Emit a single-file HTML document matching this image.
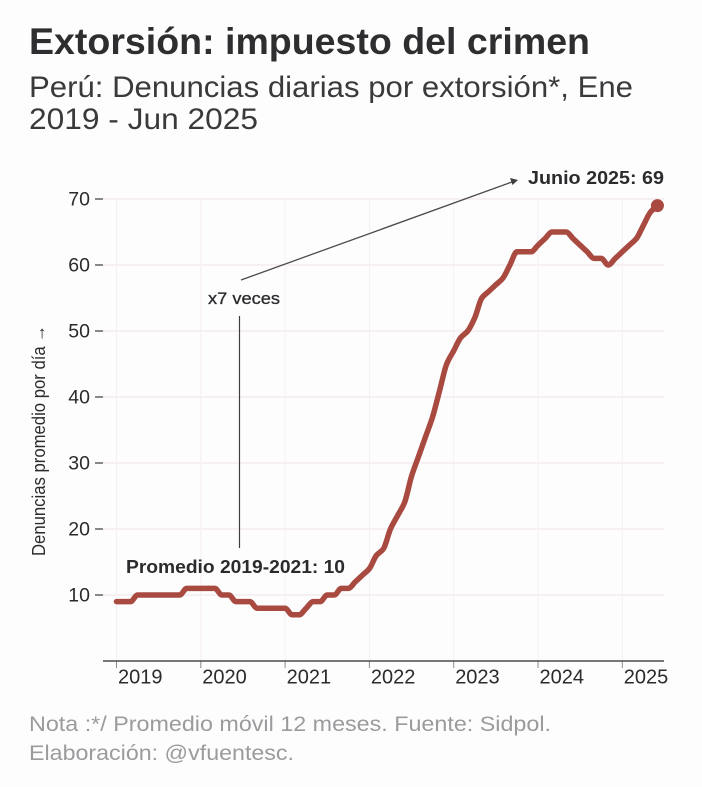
<!DOCTYPE html>
<html lang="es">
<head>
<meta charset="utf-8">
<title>Extorsión: impuesto del crimen</title>
<style>
  html, body { margin: 0; padding: 0; background: #fefdfe; }
  svg { display: block; }
  text { font-family: "Liberation Sans", sans-serif; fill: #2b2b2e; }
</style>
</head>
<body>
<svg id="chart" width="702" height="787" viewBox="0 0 702 787" xmlns="http://www.w3.org/2000/svg">
  <rect x="0" y="0" width="702" height="787" fill="#fefdfe"/>
  <text x="29" y="54" font-size="37" font-weight="700" textLength="561" lengthAdjust="spacingAndGlyphs" style="fill:#2e2e30">Extorsión: impuesto del crimen</text>
  <text x="29" y="97" font-size="29.5" textLength="604" lengthAdjust="spacingAndGlyphs" style="fill:#3a3a3d">Perú: Denuncias diarias por extorsión*, Ene</text>
  <text x="29" y="129" font-size="29.5" textLength="229" lengthAdjust="spacingAndGlyphs" style="fill:#3a3a3d">2019 - Jun 2025</text>

  <g id="grid"></g>
  <g id="axes"></g>

  <text transform="translate(45,556) rotate(-90)" font-size="18" textLength="231" lengthAdjust="spacingAndGlyphs">Denuncias promedio por día →</text>

  <g id="series"></g>

  <line x1="239.5" y1="316" x2="239.5" y2="548" stroke="#3f3f42" stroke-width="1.2"/>
  <line x1="241" y1="280" x2="512" y2="182" stroke="#4a4a4d" stroke-width="1.3"/>
  <polygon points="518,180 510,178 512.5,185" fill="#3f3f42"/>
  <text x="208" y="304" font-size="17" font-weight="400" textLength="72" lengthAdjust="spacingAndGlyphs" stroke="#2b2b2e" stroke-width="0.3">x7 veces</text>
  <text x="126" y="573" font-size="18.5" font-weight="700" textLength="219" lengthAdjust="spacingAndGlyphs">Promedio 2019-2021: 10</text>
  <text x="528" y="184" font-size="18.5" font-weight="700" textLength="136" lengthAdjust="spacingAndGlyphs">Junio 2025: 69</text>

  <text x="29" y="731" font-size="21" textLength="522" lengthAdjust="spacingAndGlyphs" style="fill:#9b9b9e">Nota :*/ Promedio móvil 12 meses. Fuente: Sidpol.</text>
  <text x="29" y="760" font-size="21" textLength="265" lengthAdjust="spacingAndGlyphs" style="fill:#9b9b9e">Elaboración: @vfuentesc.</text>
</svg>

<script>
const startYear = 2019;
const yearTicks = [2019, 2020, 2021, 2022, 2023, 2024, 2025];
const valueTicks = [10, 20, 30, 40, 50, 60, 70];
const monthlyComplaints = [
  9, 9, 9, 10, 10, 10, 10, 10, 10, 10, 11, 11,
  11, 11, 11, 10, 10, 9, 9, 9, 8, 8, 8, 8,
  8, 7, 7, 8, 9, 9, 10, 10, 11, 11, 12, 13,
  14, 16, 17, 20, 22, 24, 28, 31, 34, 37, 41, 45,
  47, 49, 50, 52, 55, 56, 57, 58, 60, 62, 62, 62,
  63, 64, 65, 65, 65, 64, 63, 62, 61, 61, 60, 61,
  62, 63, 64, 66, 68, 69
];

const NS = 'http://www.w3.org/2000/svg';
const xOf = (yearPos) => 116.5 + (yearPos - startYear) * 84.3;
const yOf = (value) => 199 + (70 - value) * 6.6;
const xOfMonth = (index) => xOf(startYear + index / 12);

function make(tag, attrs, parent) {
  const el = document.createElementNS(NS, tag);
  for (const key in attrs) el.setAttribute(key, attrs[key]);
  parent.appendChild(el);
  return el;
}

const grid = document.getElementById('grid');
const axes = document.getElementById('axes');
const series = document.getElementById('series');

valueTicks.forEach((v) => {
  const gridLine = make('line', {x1: 103, x2: 664, y1: yOf(v), y2: yOf(v), stroke: '#f3ecef', 'stroke-width': 1.4}, grid);
  
  
  const tick = make('line', {x1: 95, x2: 103, y1: yOf(v), y2: yOf(v), stroke: '#3a3a3d', 'stroke-width': 1.2}, axes);
  
  
  const label = make('text', {x: 90, y: yOf(v) + 6.5, 'font-size': 19.5, 'text-anchor': 'end'}, axes);
  
  
  label.textContent = v;
});

yearTicks.forEach((yr) => {
  const gridLine = make('line', {x1: xOf(yr), x2: xOf(yr), y1: 199, y2: 661, stroke: '#f6eff2', 'stroke-width': 1}, grid);
  
  
  const tick = make('line', {x1: xOf(yr), x2: xOf(yr), y1: 661, y2: 668, stroke: '#8a8a8d', 'stroke-width': 1}, axes);
  
  
  const label = make('text', {x: xOf(yr) + 1.5, y: 683.5, 'font-size': 20}, axes);
  
  
  label.textContent = yr;
});

const xAxisLine = make('line', {x1: 103, x2: 664, y1: 661, y2: 661, stroke: '#4a4a4d', 'stroke-width': 1.4}, axes);



/* Monotone cubic path through the monthly points */
function monotonePath(pts) {
  const n = pts.length;
  const slopes = [];
  for (let i = 0; i < n - 1; i++) slopes.push((pts[i + 1][1] - pts[i][1]) / (pts[i + 1][0] - pts[i][0]));
  const tangents = [slopes[0]];
  for (let i = 1; i < n - 1; i++) {
    tangents.push(slopes[i - 1] * slopes[i] <= 0 ? 0 : 2 * slopes[i - 1] * slopes[i] / (slopes[i - 1] + slopes[i]));
  }
  tangents.push(slopes[n - 2]);
  let d = 'M' + pts[0][0].toFixed(2) + ',' + pts[0][1].toFixed(2);
  for (let i = 0; i < n - 1; i++) {
    const h = (pts[i + 1][0] - pts[i][0]) / 3;
    d += 'C' + (pts[i][0] + h).toFixed(2) + ',' + (pts[i][1] + tangents[i] * h).toFixed(2) + ' ' +
      (pts[i + 1][0] - h).toFixed(2) + ',' + (pts[i + 1][1] - tangents[i + 1] * h).toFixed(2) + ' ' +
      pts[i + 1][0].toFixed(2) + ',' + pts[i + 1][1].toFixed(2);
  }
  return d;
}

const points = monthlyComplaints.map((v, i) => [xOfMonth(i), yOf(v)]);
const trend = make('path', {d: monotonePath(points), fill: 'none', stroke: '#a84a40', 'stroke-width': 5.5, 'stroke-linejoin': 'round', 'stroke-linecap': 'round'}, series);



const lastIndex = monthlyComplaints.length - 1;
const endDot = make('circle', {cx: xOfMonth(lastIndex), cy: yOf(monthlyComplaints[lastIndex]), r: 6.5, fill: '#a84a40'}, series);


</script>
</body>
</html>
